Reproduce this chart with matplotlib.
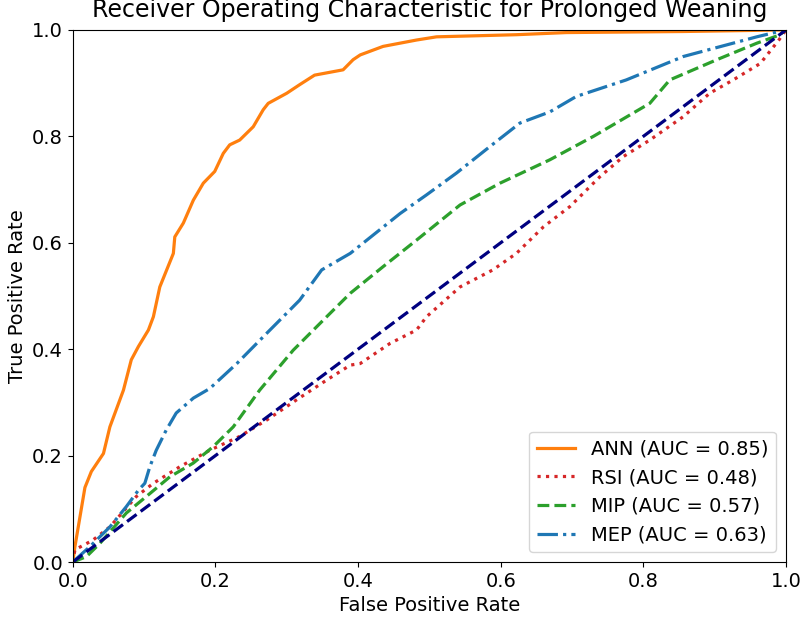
import matplotlib
matplotlib.use('Agg')
import matplotlib.pyplot as plt
import numpy as np

# ROC points (false positive rate, true positive rate)
ann_fpr = [0.0, 0.003, 0.017, 0.026, 0.043, 0.052, 0.071, 0.082, 0.092, 0.106,
           0.113, 0.122, 0.141, 0.143, 0.155, 0.169, 0.183, 0.199, 0.211, 0.220,
           0.234, 0.253, 0.267, 0.274, 0.300, 0.318, 0.339, 0.379, 0.393, 0.403,
           0.435, 0.482, 0.510, 0.622, 0.692, 0.856, 1.0]
ann_tpr = [0.0, 0.029, 0.140, 0.170, 0.204, 0.254, 0.323, 0.380, 0.405, 0.436,
           0.461, 0.517, 0.580, 0.611, 0.637, 0.680, 0.712, 0.734, 0.768, 0.784,
           0.793, 0.818, 0.850, 0.862, 0.881, 0.897, 0.915, 0.925, 0.944, 0.953,
           0.969, 0.981, 0.987, 0.991, 0.995, 0.997, 1.0]

rsi_fpr = [0.0, 0.003, 0.028, 0.052, 0.089, 0.113, 0.150, 0.192, 0.234, 0.272,
           0.314, 0.356, 0.389, 0.403, 0.445, 0.482, 0.496, 0.543, 0.589, 0.622,
           0.660, 0.697, 0.739, 0.772, 0.809, 0.856, 0.893, 0.926, 0.964, 0.990, 1.0]
rsi_tpr = [0.0, 0.023, 0.041, 0.066, 0.123, 0.148, 0.179, 0.210, 0.236, 0.267,
           0.305, 0.342, 0.370, 0.373, 0.411, 0.436, 0.461, 0.517, 0.549, 0.580,
           0.630, 0.668, 0.724, 0.762, 0.793, 0.837, 0.881, 0.906, 0.937, 0.981, 1.0]

mip_fpr = [0.0, 0.019, 0.038, 0.075, 0.103, 0.136, 0.169, 0.197, 0.225, 0.262,
           0.309, 0.356, 0.389, 0.435, 0.482, 0.543, 0.599, 0.669, 0.730, 0.809,
           0.837, 0.903, 0.959, 0.990, 1.0]
mip_tpr = [0.0, 0.010, 0.035, 0.092, 0.123, 0.160, 0.186, 0.217, 0.254, 0.323,
           0.398, 0.461, 0.505, 0.555, 0.605, 0.671, 0.712, 0.756, 0.800, 0.862,
           0.906, 0.944, 0.975, 0.990, 1.0]

mep_fpr = [0.0, 0.024, 0.052, 0.075, 0.092, 0.101, 0.108, 0.117, 0.131, 0.145,
           0.169, 0.192, 0.230, 0.272, 0.318, 0.349, 0.389, 0.459, 0.496, 0.538,
           0.585, 0.627, 0.669, 0.706, 0.776, 0.856, 0.959, 0.990, 1.0]
mep_tpr = [0.0, 0.029, 0.066, 0.104, 0.135, 0.148, 0.179, 0.210, 0.248, 0.280,
           0.308, 0.326, 0.373, 0.430, 0.492, 0.549, 0.580, 0.655, 0.690, 0.731,
           0.781, 0.825, 0.846, 0.875, 0.906, 0.950, 0.987, 0.997, 1.0]

labels = ['ANN (AUC = 0.85)', 'RSI (AUC = 0.48)',
          'MIP (AUC = 0.57)', 'MEP (AUC = 0.63)']

fig = plt.figure(figsize=(8, 6.18), dpi=100)
ax = fig.add_axes([0.091, 0.0906, 0.8915, 0.861])

lw = 2.3
ax.plot(ann_fpr, ann_tpr, color='tab:orange', lw=lw, label=labels[0])
ax.plot(rsi_fpr, rsi_tpr, color='tab:red', lw=lw, linestyle=':', label=labels[1])
ax.plot(mip_fpr, mip_tpr, color='tab:green', lw=lw, linestyle='--', label=labels[2])
ax.plot(mep_fpr, mep_tpr, color='tab:blue', lw=lw, linestyle='-.', label=labels[3])
ax.plot([0, 1], [0, 1], color='navy', lw=lw, linestyle='--')

ax.set_xlim([0.0, 1.0])
ax.set_ylim([0.0, 1.0])
ax.tick_params(labelsize=14)
ax.set_xlabel('False Positive Rate', fontsize=14)
ax.set_ylabel('True Positive Rate', fontsize=14)
ax.set_title('Receiver Operating Characteristic for Prolonged Weaning',
             fontsize=17, pad=9)
ax.legend(loc='lower right', fontsize=14)

fig.savefig('out.png', dpi=100)
